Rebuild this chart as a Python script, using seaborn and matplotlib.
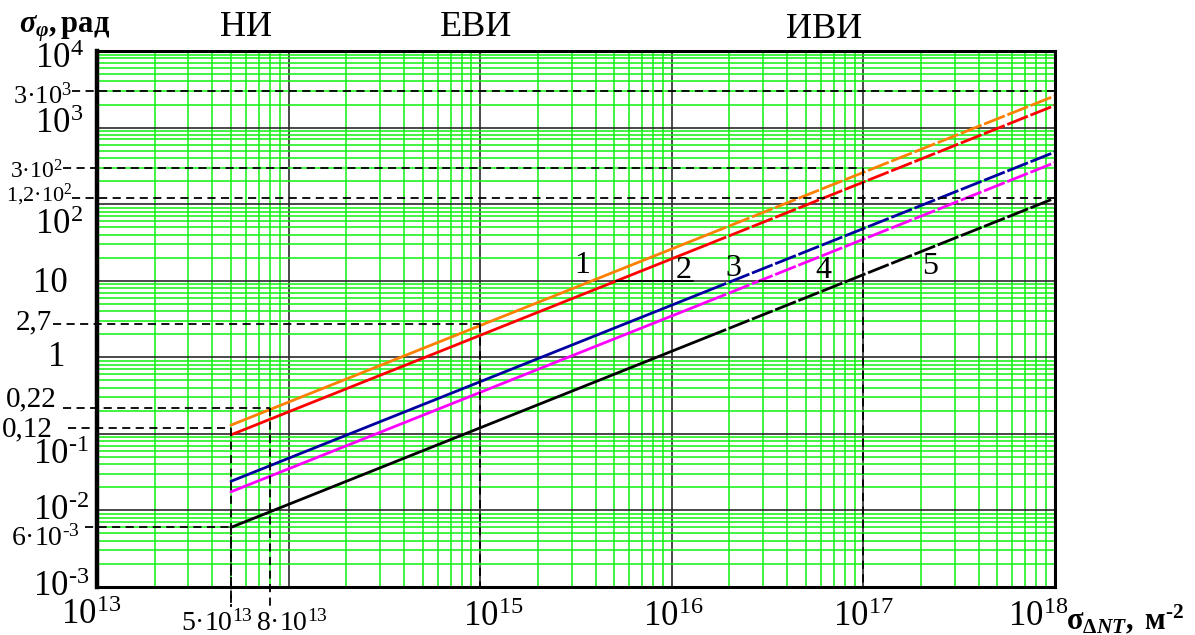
import matplotlib
matplotlib.use("Agg")
import numpy as np
import pandas as pd
import seaborn as sns
import matplotlib.pyplot as plt
from matplotlib.transforms import blended_transform_factory
from matplotlib.ticker import LogLocator, NullFormatter

# ---------------- data ----------------
x_points = [5e13, 1.5e16, 1e18]          # sigma_dNT, m^-2 (start, solid->dashed, end)
curve_1 = [0.13, 39.0, 2600.0]           # orange
curve_2 = [0.097, 29.0, 1950.0]          # red
curve_3 = [0.024, 7.2, 480.0]            # blue
curve_4 = [0.0175, 5.2, 350.0]           # magenta
curve_5 = [0.006, 1.8, 120.0]            # black
curve_names = ["1", "2", "3", "4", "5"]
curve_colors = ["#ff8000", "#ff0000", "#0000a0", "#ff00ff", "#000000"]
region_labels = ["НИ", "ЕВИ", "ИВИ"]

x_major_ticks = [1e13, 1e15, 1e16, 1e17, 1e18]
x_major_labels = [r"$10^{13}$", r"$10^{15}$", r"$10^{16}$", r"$10^{17}$", r"$10^{18}$"]
y_major_ticks = [1e4, 1e3, 1e2, 10, 1, 0.1, 0.01, 1e-3]
y_major_labels = [r"$10^{4}$", r"$10^{3}$", r"$10^{2}$", "10", "1",
                  r"$10^{‐1}$", r"$10^{‐2}$", r"$10^{‐3}$"]

ref_y_values = [3e3, 3e2, 1.2e2, 2.7, 0.22, 0.12, 6e-3]
ref_y_labels = [r"$3{·}10^{3}$", r"$3{·}10^{2}$", r"$1{,}2{·}10^{2}$", "2,7", "0,22", "0,12",
                r"$6{·}10^{‐3}$"]
ref_y_until_x = [1e18, 1e17, 1e18, 1e15, 8e13, 5e13, 5e13]
ref_x_values = [5e13, 8e13]
ref_x_labels = [r"$5{·}10^{13}$", r"$8{·}10^{13}$"]

# ---------------- style ----------------
sns.set_theme(style="white")
plt.rcParams['font.family'] = ['Liberation Serif', 'DejaVu Serif']
plt.rcParams['mathtext.fontset'] = 'custom'
plt.rcParams['mathtext.rm'] = 'Liberation Serif'
plt.rcParams['mathtext.it'] = 'Liberation Serif:italic'
plt.rcParams['mathtext.bf'] = 'Liberation Serif:bold'
try:
    plt.rcParams['mathtext.bfit'] = 'Liberation Serif:italic:bold'
except KeyError:
    pass

W, H = 1195, 635
L, R, T, B = 97, 1055, 51, 587
fig = plt.figure(figsize=(W / 100, H / 100), dpi=100)
fig.patch.set_facecolor("white")
ax = fig.add_axes([L / W, (H - B) / H, (R - L) / W, (B - T) / H])
ax.set_facecolor("white")

# curves
for name, ys, col in zip(curve_names, [curve_1, curve_2, curve_3, curve_4, curve_5], curve_colors):
    seg = pd.DataFrame({"x": x_points, "y": ys})
    sns.lineplot(data=seg.iloc[:2], x="x", y="y", color=col, lw=2.0, ax=ax,
                 estimator=None, sort=False, zorder=5)
    sns.lineplot(data=seg.iloc[1:], x="x", y="y", color=col, lw=2.0, ax=ax,
                 estimator=None, sort=False, zorder=5, linestyle=(0, (8, 1.0)))

ax.set_xscale("log")
ax.set_yscale("log")
ax.set_xlim(1e13, 1e18)
ax.set_ylim(1e-3, 1e4)
ax.xaxis.set_major_locator(LogLocator(base=10, numticks=20))
ax.yaxis.set_major_locator(LogLocator(base=10, numticks=20))
ax.xaxis.set_minor_locator(LogLocator(base=10, subs=np.arange(2, 10), numticks=100))
ax.yaxis.set_minor_locator(LogLocator(base=10, subs=np.arange(2, 10), numticks=100))
ax.xaxis.set_major_formatter(NullFormatter())
ax.yaxis.set_major_formatter(NullFormatter())
ax.xaxis.set_minor_formatter(NullFormatter())
ax.yaxis.set_minor_formatter(NullFormatter())
ax.tick_params(which="both", length=0)
ax.set_xlabel("")
ax.set_ylabel("")
ax.set_axisbelow(True)
ax.grid(which="minor", color="#11f011", lw=1.1)
ax.grid(which="major", color="#2a2a2a", lw=1.2)
for side, sp in ax.spines.items():
    sp.set_color("black")
    sp.set_linewidth(2.2)
ax.spines["left"].set_linewidth(3.2)

# dashed reference lines
dash = dict(color="black", lw=1.3, linestyle=(0, (4.5, 3)), clip_on=False, zorder=6)
tr_h = blended_transform_factory(ax.transAxes, ax.transData)
tr_v = blended_transform_factory(ax.transData, ax.transAxes)
ref_start_px = [72, 63, 72, 53, 63, 68, 85]
def frac_x(v):
    return (np.log10(v) - 13) / 5
def frac_y(v):
    return (np.log10(v) + 3) / 7
for yv, xv, spx in zip(ref_y_values, ref_y_until_x, ref_start_px):
    ax.plot([(spx - L) / (R - L), frac_x(xv)], [yv, yv], transform=tr_h, **dash)
    bottom = -(607 - B) / (B - T) if xv in ref_x_values else 0.0
    ax.plot([xv, xv], [frac_y(yv), bottom], transform=tr_v, **dash)

def ftext(px, py, s, **kw):
    return fig.text(px / W, 1 - py / H, s, **kw)

# y labels
major_pos = [(35, 60), (35, 124), (35, 225), (33, 283), (48, 357), (33, 455), (33, 512), (33, 588)]
for lab, (px, py) in zip(y_major_labels, major_pos):
    ftext(px, py, lab, ha="left", va="center", fontsize=25, color="black")
ref_lab_pos = [(72, 96, 19), (63, 172, 17), (73, 195, 16), (52, 322, 21), (57, 399, 21),
               (53, 429, 21), (80, 538, 20)]
for lab, (px, py, fs) in zip(ref_y_labels, ref_lab_pos):
    ftext(px, py, lab, ha="right", va="center", fontsize=fs, color="black")

# x labels
x_major_pos = [(91, 616), (493, 617), (673, 617), (863, 617), (1038, 617)]
for lab, (px, py) in zip(x_major_labels, x_major_pos):
    ftext(px, py, lab, ha="center", va="center", fontsize=25, color="black")
for lab, (px, py) in zip(ref_x_labels, [(217, 623), (292, 623)]):
    ftext(px, py, lab, ha="center", va="center", fontsize=20, color="black")

# region labels
for lab, (px, py) in zip(region_labels, [(246, 28), (476, 27), (824, 30)]):
    ftext(px, py, lab, ha="center", va="center", fontsize=26, color="black")

# curve numbers and leaders
num_pos = [(582, 273), (684, 278), (733, 276), (823, 278), (930, 274)]
for lab, (px, py) in zip(curve_names, num_pos):
    ftext(px, py, lab, ha="center", va="baseline", fontsize=23, color="black")
leader_end_px = {"2": 693, "4": 830}
for name, ys in zip(curve_names, [curve_1, curve_2, curve_3, curve_4, curve_5]):
    if name in leader_end_px:
        x_cross = 10 * x_points[-1] / ys[-1]
        x_end = 10 ** (13 + 5 * (leader_end_px[name] - L) / (R - L))
        ax.plot([x_cross, x_end], [10, 10], color="black", lw=1.4, zorder=6)

# axis titles
ftext(19, 33, r"$\mathbfit{σ}_{\mathbfit{φ}}\mathbf{,рад}$", ha="left", va="baseline",
      fontsize=22, color="black")
ftext(1066, 629, r"$\mathbf{σ}_{\mathbf{Δ}\mathbfit{NT}}\mathbf{,\ м}^{\mathbf{‐2}}$",
      ha="left", va="baseline", fontsize=22, color="black")

fig.savefig("out.png", dpi=100, facecolor="white")
